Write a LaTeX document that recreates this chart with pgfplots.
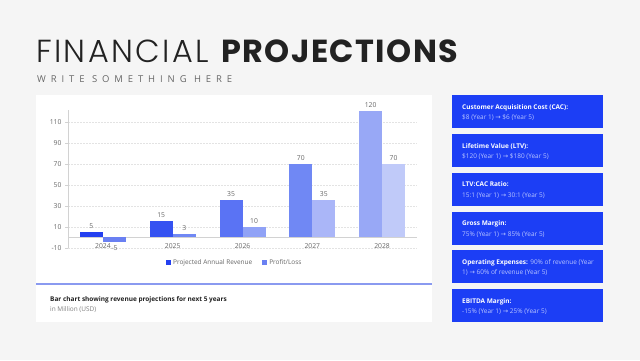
\documentclass[border=0pt]{standalone}
\usepackage{pgfplots}
\pgfplotsset{compat=1.18}
\usepackage{fontspec}
\setmainfont{Open Sans}
\newfontfamily\titlebold{Poppins}[LetterSpace=4.5]
\newfontfamily\titlelight{Poppins Light}[LetterSpace=7.5]
\newfontfamily\sym{DejaVu Sans}
\newcommand{\arr}{{\sym →}}
\definecolor{bg}{HTML}{F5F5F5}
\definecolor{boxblue}{HTML}{1C3EF5}
\definecolor{boxsub}{HTML}{B8C4FF}
\definecolor{linecol}{HTML}{8A9AF0}
\definecolor{ticklab}{HTML}{666666}
\definecolor{titlecol}{HTML}{222222}
\definecolor{rev1}{HTML}{2440F0}
\definecolor{rev2}{HTML}{3552F1}
\definecolor{rev3}{HTML}{5A73F4}
\definecolor{rev4}{HTML}{7088F4}
\definecolor{rev5}{HTML}{98A8F6}
\definecolor{pl1}{HTML}{6A80F2}
\definecolor{pl2}{HTML}{7088F4}
\definecolor{pl3}{HTML}{90A2F6}
\definecolor{pl4}{HTML}{AAB6F8}
\definecolor{pl5}{HTML}{C0CAF9}
\begin{document}
\begin{tikzpicture}[x=1bp,y=1bp]
\useasboundingbox (0,0) rectangle (640,360);
\fill[bg] (0,0) rectangle (640,360);
% title
\node[anchor=base west, inner sep=0pt, text=titlecol] at (36,298)
  {\fontsize{32}{34}\selectfont{\titlelight FINANCIAL}\hspace{4bp} {\titlebold\bfseries PROJECTIONS}};
\node[anchor=base west, inner sep=0pt, text=ticklab] at (37,278)
  {\fontsize{9.5}{11}\selectfont\addfontfeature{LetterSpace=52}WRITE SOMETHING HERE};
% panel
\fill[white] (36,38) rectangle (432,265);
\draw[line width=1.5bp, linecol] (36,76) -- (432,76);
\node[anchor=base west, inner sep=0pt, text=titlecol] at (50,59)
  {\fontsize{6.5}{8}\selectfont\bfseries Bar chart showing revenue projections for next 5 years};
\node[anchor=base west, inner sep=0pt, text=gray] at (50,49)
  {\fontsize{6.5}{8}\selectfont in Million (USD)};
% side boxes
\foreach \t/\a/\b in {95/{Customer Acquisition Cost (CAC):}/{\$8 (Year 1) \arr{} \$6 (Year 5)},
  134/{Lifetime Value (LTV):}/{\$120 (Year 1) \arr{} \$180 (Year 5)},
  172.5/{LTV:CAC Ratio:}/{15:1 (Year 1) \arr{} 30:1 (Year 5)},
  211.5/{Gross Margin:}/{75\% (Year 1) \arr{} 85\% (Year 5)},
  289/{EBITDA Margin:}/{-15\% (Year 1) \arr{} 25\% (Year 5)}}{
  \fill[boxblue] (452,360-\t-33) rectangle (603,360-\t);
  \node[anchor=base west, inner sep=0pt, text=white] at (462,360-\t-14)
    {\fontsize{6.5}{8}\selectfont\bfseries \a};
  \node[anchor=base west, inner sep=0pt, text=boxsub] at (462,360-\t-24.5)
    {\fontsize{6.5}{8}\selectfont \b};
}
\fill[boxblue] (452,360-250-33) rectangle (603,360-250);
\node[anchor=base west, inner sep=0pt, text=white] at (462,360-250-14)
  {\fontsize{6.5}{8}\selectfont\bfseries Operating Expenses: \mdseries\color{boxsub}90\% of revenue (Year};
\node[anchor=base west, inner sep=0pt, text=boxsub] at (462,360-250-24.5)
  {\fontsize{6.5}{8}\selectfont 1) \arr{} 60\% of revenue (Year 5)};
% chart
\begin{axis}[
  at={(68bp,112.3bp)}, anchor=south west,
  scale only axis, width=349bp, height=137.55bp,
  xmin=-0.5, xmax=4.5, ymin=-10, ymax=121,
  ybar, bar width=23bp, clip=false,
  axis x line=middle, axis y line=left,
  axis line style={draw=gray!35, -},
  xtick={0,1,2,3,4}, xticklabels={2024,2025,2026,2027,2028},
  x tick style={draw=none},
  extra x ticks={-0.5,0.5,1.5,2.5,3.5,4.5}, extra x tick labels={},
  extra x tick style={tick style={draw=gray!35}, major tick length=3bp, tick align=outside},
  ytick={-10,10,30,50,70,90,110},
  y tick style={draw=gray!35}, tick align=outside, major tick length=3bp,
  ymajorgrids, grid style={gray!22, dash pattern=on 2bp off 1bp},
  tick label style={font=\fontsize{6.8}{8}\selectfont, text=ticklab},
  /pgf/number format/assume math mode=true,
  nodes near coords,
  every node near coord/.append style={font=\fontsize{6.8}{8}\selectfont, text=ticklab},
  legend style={at={(0.478,-0.111)}, anchor=center, draw=none, fill=none,
    legend columns=2, font=\fontsize{6.5}{8}\selectfont, text=ticklab,
    /tikz/every even column/.append style={column sep=8bp}},
  legend image code/.code={\fill[#1, draw=none] (0bp,-2.5bp) rectangle (5bp,2.5bp);},
]
\addlegendimage{fill=rev1, draw=none}
\addlegendentry{Projected Annual Revenue}
\addlegendimage{fill=pl1, draw=none}
\addlegendentry{Profit/Loss}
\addplot[forget plot, fill=rev1, draw=none, bar shift=-11.5bp] coordinates {(0,5)};
\addplot[forget plot, fill=rev2, draw=none, bar shift=-11.5bp] coordinates {(1,15)};
\addplot[forget plot, fill=rev3, draw=none, bar shift=-11.5bp] coordinates {(2,35)};
\addplot[forget plot, fill=rev4, draw=none, bar shift=-11.5bp] coordinates {(3,70)};
\addplot[forget plot, fill=rev5, draw=none, bar shift=-11.5bp] coordinates {(4,120)};
\addplot[forget plot, fill=pl1, draw=none, bar shift=11.5bp] coordinates {(0,-5)};
\addplot[forget plot, fill=pl2, draw=none, bar shift=11.5bp] coordinates {(1,3)};
\addplot[forget plot, fill=pl3, draw=none, bar shift=11.5bp] coordinates {(2,10)};
\addplot[forget plot, fill=pl4, draw=none, bar shift=11.5bp] coordinates {(3,35)};
\addplot[forget plot, fill=pl5, draw=none, bar shift=11.5bp] coordinates {(4,70)};
\end{axis}
\end{tikzpicture}
\end{document}
